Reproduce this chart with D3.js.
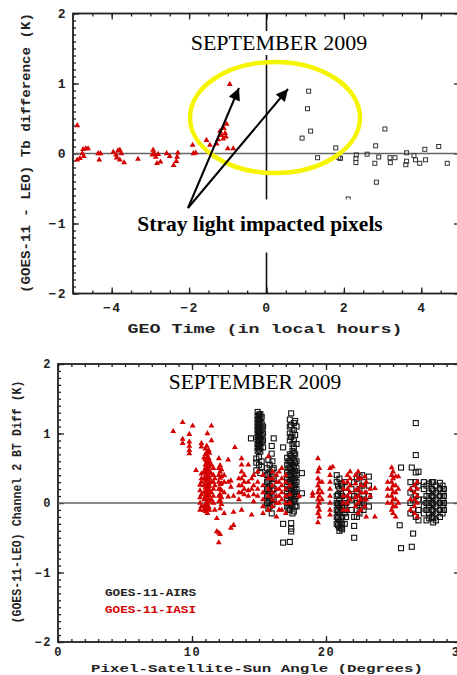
<!DOCTYPE html>
<html>
  <head>
    <meta charset="utf-8">
    <title>GOES-11 stray light</title>
    <script src="https://d3js.org/d3.v7.min.js"></script>
    <style>
      body { margin: 0; background: #fff; }
      .mono { font-family: "Liberation Mono", "DejaVu Sans Mono", monospace; font-weight: bold; }
      .serif { font-family: "Liberation Serif", "Times New Roman", serif; }
    </style>
  </head>
  <body>
    <script>
      // ---- top panel: Tb difference vs GEO local time ----
      var iasiTime = [
        [-4.89,0.40],[-4.89,-0.09],[-4.82,-0.07],[-4.76,0.0],[-4.74,0.06],[-4.67,0.07],[-4.61,0.07],[-4.72,-0.04],
        [-4.35,0.0],[-4.29,0.0],[-4.32,-0.09],
        [-3.96,0.02],[-3.89,-0.02],[-3.87,-0.06],[-3.79,0.05],[-3.75,0.0],[-3.79,-0.09],[-3.68,-0.13],[-3.84,0.04],
        [-3.32,-0.08],
        [-2.93,0.05],[-2.95,-0.02],[-2.86,-0.05],[-2.80,-0.01],[-2.83,-0.14],[-2.74,-0.12],[-2.90,0.0],
        [-2.58,0.0],[-2.50,-0.04],[-2.40,-0.17],[-2.33,-0.11],[-2.31,-0.05],[-2.29,0.01],
        [-1.91,0.12],[-1.89,0.0],[-1.83,0.01],
        [-1.55,0.19],[-1.46,0.12],[-1.29,0.14],[-1.25,0.20],[-1.16,0.26],[-1.12,0.21],[-1.07,0.29],
        [-1.03,0.42],[-1.05,0.24],[-1.00,0.07],[-0.86,0.07],[-0.95,0.99],[-1.20,0.32],[-1.10,0.36]
      ];
      var airsTime = [
        [1.09,0.89],[1.06,0.64],[1.14,0.32],[0.92,0.22],[1.32,-0.06],[1.79,0.08],[1.87,-0.06],[1.91,-0.07],
        [2.11,-0.65],[2.32,-0.02],[2.31,-0.07],[2.31,-0.13],[2.60,-0.01],[2.82,0.11],[3.06,0.35],[2.90,-0.05],
        [2.80,-0.14],[2.84,-0.41],[3.19,-0.06],[3.32,-0.06],[3.20,-0.13],[3.62,0.01],[3.62,-0.11],[3.60,-0.16],
        [3.81,-0.03],[3.85,-0.09],[3.96,-0.14],[4.09,0.06],[4.11,-0.09],[4.45,0.10],[4.67,-0.14]
      ];

      // ---- bottom panel: BT diff vs pixel-satellite-sun angle, as [angle, [diffs...]] columns ----
      var iasiAngle = [
        [8.6,[1.03]],[9.3,[1.16,0.92,0.86]],[9.8,[0.99,0.88,0.82,0.76,0.71]],[10.05,[1.11]],[10.3,[0.47]],
        [10.6,[0.26,0.18,0.08,0.0,-0.1]],[10.7,[0.86,0.81,0.42,0.35,0.3,0.12,-0.05]],
        [10.9,[0.65,0.45,0.35,0.25,0.15,0.05,-0.05,-0.1]],
        [11.0,[0.78,0.7,0.62,0.55,0.5,0.44,0.38,0.33,0.28,0.22,0.16,0.1,0.05,-0.02,-0.08,-0.12]],
        [11.1,[0.82,0.7,0.6,0.52,0.42,0.32,0.24,0.16,0.08,-0.02,-0.1]],
        [11.15,[1.0,0.74,0.66,0.58,0.5,0.46,0.4,0.34,0.26,0.2,0.14,0.06,0.0,-0.05,-0.15]],
        [11.25,[0.76,0.64,0.56,0.48,0.38,0.28,0.2,0.12,0.04,-0.06]],
        [11.3,[0.72,0.6,0.52,0.44,0.36,0.3,0.24,0.18,0.1,0.02,-0.1]],
        [11.45,[1.11,0.9,0.55,0.42,0.3,0.15,0.05]],[11.6,[0.5,0.4,0.3,0.2,0.1,0.0]],
        [11.7,[0.35,0.25,-0.1]],[11.85,[-0.22,-0.41]],
        [12.0,[-0.43,-0.57,0.64,0.5,0.4,0.3,0.2,0.1,0.02]],[12.1,[0.54,0.45,0.36,0.27,0.2,0.12,0.04,-0.08,-0.45]],
        [12.2,[0.48,0.38,0.28,0.18,0.08,-0.02]],
        [12.4,[0.4,0.3,0.15,-0.15]],[12.7,[0.62,0.3,0.09]],[12.9,[0.32,0.23,-0.36]],[13.1,[0.1,-0.13,-0.32]],
        [13.2,[0.8]],[13.5,[0.35,0.25,0.15,0.05]],[13.7,[0.64,0.55,0.45,0.35,0.25,0.15,-0.1]],[13.9,[0.4,0.3,0.2,0.12]],
        [14.2,[0.55,0.3,0.18,0.1]],[14.45,[0.35,0.2,-0.17]],[14.6,[0.4,0.25,0.12,0.02]],[14.9,[0.45,0.3,0.2,0.1]],
        [15.3,[0.4,0.25,0.15,0.05,-0.05,-0.15]],[15.7,[0.67,0.35,0.2,0.1,-0.1]],
        [16.0,[0.45,0.35,0.25,0.15,0.05,-0.05]],[16.3,[0.4,0.3,0.2,0.1,0.0,-0.2]],
        [16.5,[0.45,0.3,0.2,0.1,0.0,-0.1]],
        [16.7,[0.5,0.35,0.25,0.15,0.05,-0.1]],[17.0,[0.4,0.3,0.2,0.1,0.0,-0.15]],[17.3,[0.25,0.12,0.0]],
        [18.0,[0.1]],[19.0,[0.14,0.1]],[19.4,[0.64,0.45,0.35,0.25,0.15,0.05,-0.05,-0.15,-0.28]],
        [19.5,[0.5,0.3,0.2,0.1,0.0,-0.1,-0.2]],
        [19.7,[0.3,0.15,0.05]],[20.3,[0.5,0.4,0.3,0.2,0.1,0.0,-0.1,-0.17]],[20.5,[0.52]],
        [21.3,[0.3,0.2,0.1,0.0,-0.1]],[21.6,[0.4,0.3,0.2,0.1,0.0,-0.1]],[21.8,[0.45,0.35,0.25,0.15,0.05]],
        [22.2,[0.4,0.28,0.18,0.08,-0.05]],[22.4,[0.45,0.35,0.2,0.1,0.0,-0.15]],
        [22.6,[0.35,0.25,0.15,0.05,-0.1]],[22.9,[0.38,0.25,0.15,0.05,-0.05]],[23.0,[0.3,0.15,0.05,-0.2]],
        [23.3,[0.2,0.1]],[23.65,[0.21,-0.2]],
        [24.6,[0.3,0.2,0.1,0.0]],[24.9,[0.51,0.4,0.3,0.2,0.1,0.0,-0.1]],[25.0,[0.45,0.35,0.25,0.15,0.05,-0.05,-0.15]],
        [25.2,[0.38,0.25,0.15,0.05,-0.05,-0.2]],
        [25.4,[0.38,0.2,0.0]],[26.3,[0.2,0.05,-0.1]],[26.6,[0.25,0.15,0.05,-0.05,-0.15]],[26.8,[0.3,0.2,0.1,0.0,-0.2]]
      ];
      var airsAngle = [
        [14.4,[0.93]],[14.8,[0.64,0.58,0.47]],
        [14.9,[1.31,1.25,1.2,1.15,1.1,1.05,1.0,0.95,0.9,0.85,0.8,0.75]],
        [15.0,[1.27,1.19,1.13,1.07,1.01,0.96,0.89,0.83,0.77,0.66,0.55]],
        [15.1,[1.28,1.22,1.16,1.1,1.04,0.98,0.92,0.86,0.8,0.74,0.43]],
        [15.2,[1.24,1.14,1.06,0.97,0.88,0.6,0.52]],[15.3,[1.1,1.0,0.9,0.8]],
        [15.6,[0.5,0.4,0.3,0.2,0.1,0.0]],[15.7,[0.62,0.42,0.32,0.22,0.12,0.02,-0.08]],
        [15.8,[0.55,0.45,0.35,0.25,0.15,0.05,-0.05]],
        [15.95,[0.82,0.71,-0.15]],[16.0,[0.6,0.48,0.38,0.28,0.18,0.08,-0.02]],
        [16.1,[0.93,0.5,0.35,0.2,0.05]],[16.8,[0.8,-0.3,-0.57]],
        [17.1,[0.65,0.55,0.45,0.35,0.25,0.15,0.05,-0.05]],
        [17.2,[0.6,0.5,0.4,0.3,0.2,0.1,0.0,-0.08]],
        [17.3,[1.2,1.1,1.0,0.9,0.7,0.6,0.5,0.4,0.3,0.2,0.1,0.0,-0.1,-0.56]],
        [17.4,[1.29,1.12,0.95,0.68,0.58,0.48,0.38,0.28,0.18,0.08,-0.02,-0.29,-0.37,-0.41]],
        [17.5,[1.0,0.85,0.75,0.65,0.55,0.45,0.35,0.25,0.15,0.05,-0.05,-0.15]],
        [17.6,[1.15,1.05,0.9,0.8,0.72,0.62,0.52,0.42,0.32,0.22,0.12,0.02,-0.12]],
        [17.7,[1.18,0.98,0.7,0.58,0.46,0.36,0.26,0.16,0.06,-0.04]],
        [17.8,[1.1,0.85,0.6,0.5,0.4,0.3,0.2,0.1,-0.05]],[18.2,[0.43,0.14]],
        [20.8,[0.4,0.3,0.1,0.0,-0.1,-0.2,-0.3]],[20.9,[0.25,0.12,-0.02,-0.12,-0.22,-0.32]],
        [21.0,[0.35,0.2,0.05,-0.05,-0.15,-0.25,-0.35,-0.4]],[21.1,[0.28,0.15,0.0,-0.1,-0.27,-0.36]],
        [21.2,[0.25,0.1,-0.05,-0.2,-0.3,-0.38]],[21.4,[0.3,0.05,-0.05,-0.15,-0.3]],
        [21.5,[0.15,0.0,-0.1,-0.2]],[21.9,[0.2,0.05,-0.1]],
        [22.1,[0.3,0.1,-0.2,-0.33,-0.5]],[22.3,[0.35,0.15,0.0,-0.1,-0.2]],[22.5,[0.38,0.2,0.05,-0.05,-0.15]],
        [22.7,[0.4,0.25,0.05,-0.05]],[22.8,[0.3,0.1,0.0,-0.1]],
        [23.2,[0.38,0.25,0.1,-0.05]],[25.5,[-0.32]],[25.6,[0.51,-0.65]],[26.3,[0.3,0.15,0.0,-0.15]],
        [26.4,[0.51,-0.63]],[26.5,[0.2,0.05,-0.1,-0.44]],[26.7,[1.15,0.69,0.44,0.3,0.1,-0.2]],
        [26.9,[0.45,0.25,0.05,-0.1,-0.25]],
        [27.3,[0.3,0.2,0.05,-0.05,-0.15]],[27.5,[0.25,0.1,0.0,-0.1,-0.25]],
        [27.7,[0.28,0.15,0.05,-0.05,-0.15,-0.22]],[27.9,[0.3,0.2,0.1,0.0,-0.1,-0.2]],
        [28.0,[0.3,0.18,0.08,-0.02,-0.12,-0.22,-0.28]],
        [28.2,[0.25,0.15,0.05,-0.05,-0.15,-0.25]],[28.5,[0.29,0.2,0.1,0.0,-0.1,-0.2]],
        [28.7,[0.25,0.15,0.05,-0.05,-0.15]],[28.8,[0.2,0.1,0.0,-0.1]]
      ];

      var legendNames = ["GOES-11-AIRS", "GOES-11-IASI"];
      var red = "#d40000";

      function flatten(cols) {
        var out = [];
        cols.forEach(function(c) { c[1].forEach(function(v) { out.push([c[0], v]); }); });
        return out;
      }

      var svg = d3.select("body").append("svg")
        .attr("width", 457)
        .attr("height", 675)
        .style("background", "#fff");

      function frame(g, x, y, xMajor, xMinor, yMinor, xPad, labelSize) {
        var r = x.range(), b = y.range();
        var yMajor = [-2, -1, 0, 1, 2];
        var fmt = d3.format("d");

        g.append("g").attr("class", "mono")
          .attr("transform", "translate(0," + b[0] + ")")
          .call(d3.axisBottom(x).tickValues(xMajor).tickFormat(fmt).tickSize(-6).tickPadding(xPad))
          .call(function(a) { a.select(".domain").remove(); });
        g.append("g").attr("transform", "translate(0," + b[0] + ")")
          .call(d3.axisBottom(x).tickValues(xMinor).tickSize(-3).tickFormat(""))
          .call(function(a) { a.select(".domain").remove(); });
        g.append("g").attr("transform", "translate(0," + b[1] + ")")
          .call(d3.axisTop(x).tickValues(xMajor).tickSize(-6).tickFormat(""))
          .call(function(a) { a.select(".domain").remove(); });
        g.append("g").attr("transform", "translate(0," + b[1] + ")")
          .call(d3.axisTop(x).tickValues(xMinor).tickSize(-3).tickFormat(""))
          .call(function(a) { a.select(".domain").remove(); });

        g.append("g").attr("class", "mono")
          .attr("transform", "translate(" + r[0] + ",0)")
          .call(d3.axisLeft(y).tickValues(yMajor).tickFormat(fmt).tickSize(-6).tickPadding(6))
          .call(function(a) { a.select(".domain").remove(); });
        g.append("g").attr("transform", "translate(" + r[0] + ",0)")
          .call(d3.axisLeft(y).tickValues(yMinor).tickSize(-3).tickFormat(""))
          .call(function(a) { a.select(".domain").remove(); });
        g.append("g").attr("transform", "translate(" + r[1] + ",0)")
          .call(d3.axisRight(y).tickValues(yMajor).tickSize(-6).tickFormat(""))
          .call(function(a) { a.select(".domain").remove(); });
        g.append("g").attr("transform", "translate(" + r[1] + ",0)")
          .call(d3.axisRight(y).tickValues(yMinor).tickSize(-3).tickFormat(""))
          .call(function(a) { a.select(".domain").remove(); });

        g.selectAll(".tick line").attr("stroke", "#222").attr("stroke-width", 1.3);
        g.selectAll(".tick text").attr("fill", "#222")
          .style("font-size", labelSize + "px").style("letter-spacing", "1.5px");

        g.append("rect")
          .attr("x", r[0]).attr("y", b[1])
          .attr("width", r[1] - r[0]).attr("height", b[0] - b[1])
          .attr("fill", "none").attr("stroke", "#222").attr("stroke-width", 1.8);

        g.append("line")
          .attr("x1", r[0]).attr("x2", r[1])
          .attr("y1", y(0)).attr("y2", y(0))
          .attr("stroke", "#666").attr("stroke-width", 1.6);
      }

      var yMinor = d3.range(-20, 21).map(function(i) { return i / 10; });

      // ================= TOP =================
      var xT = d3.scaleLinear().domain([-5, 5]).range([73, 460]);
      var yT = d3.scaleLinear().domain([-2, 2]).range([293.5, 13.5]);
      var topG = svg.append("g");

      frame(topG, xT, yT, [-4, -2, 0, 2, 4],
        d3.range(-10, 11).map(function(i) { return i / 2; }), yMinor, 9, 13);

      topG.append("line")
        .attr("x1", xT(0)).attr("x2", xT(0))
        .attr("y1", yT(2)).attr("y2", yT(-2))
        .attr("stroke", "#111").attr("stroke-width", 1.6);

      topG.selectAll("path.tri")
        .data(iasiTime)
        .enter().append("path")
          .attr("class", "tri")
          .attr("d", d3.symbol(d3.symbolTriangle, 15))
          .attr("transform", function(d) { return "translate(" + xT(d[0]) + "," + yT(d[1]) + ")"; })
          .attr("fill", red);

      topG.selectAll("rect.sq")
        .data(airsTime)
        .enter().append("rect")
          .attr("class", "sq")
          .attr("x", function(d) { return xT(d[0]) - 2; })
          .attr("y", function(d) { return yT(d[1]) - 2; })
          .attr("width", 4).attr("height", 4)
          .attr("fill", "none").attr("stroke", "#333").attr("stroke-width", 1);

      // white boxes behind the pasted-in texts
      topG.append("rect").attr("x", 184).attr("y", 31).attr("width", 190).attr("height", 24).attr("fill", "#fff");
      topG.append("rect").attr("x", 132).attr("y", 199.5).attr("width", 258).attr("height", 53).attr("fill", "#fff");

      topG.append("text").attr("class", "serif")
        .attr("x", 279).attr("y", 50)
        .attr("text-anchor", "middle")
        .style("font-size", "22px")
        .text("SEPTEMBER 2009");

      topG.append("text").attr("class", "serif")
        .attr("x", 260).attr("y", 231)
        .attr("text-anchor", "middle")
        .style("font-size", "21.5px").style("font-weight", "bold")
        .text("Stray light impacted pixels");

      topG.append("ellipse")
        .attr("cx", 275).attr("cy", 117.5)
        .attr("rx", 85).attr("ry", 55.5)
        .attr("fill", "none").attr("stroke", "#f5f500").attr("stroke-width", 4.5);

      svg.append("defs").append("marker")
        .attr("id", "head")
        .attr("viewBox", "0 0 10 10")
        .attr("refX", 10).attr("refY", 5)
        .attr("markerWidth", 6.5).attr("markerHeight", 6)
        .attr("markerUnits", "strokeWidth")
        .attr("orient", "auto")
        .append("path").attr("d", "M0,0L10,5L0,10Z").attr("fill", "#000");

      [[239, 88], [288, 89]].forEach(function(t) {
        topG.append("line")
          .attr("x1", 188).attr("y1", 208)
          .attr("x2", t[0]).attr("y2", t[1])
          .attr("stroke", "#000").attr("stroke-width", 2)
          .attr("marker-end", "url(#head)");
      });

      topG.append("text").attr("class", "mono")
        .attr("x", 265).attr("y", 333)
        .attr("text-anchor", "middle")
        .attr("textLength", 275).attr("lengthAdjust", "spacingAndGlyphs")
        .style("font-size", "13px").attr("fill", "#222")
        .text("GEO Time (in local hours)");

      topG.append("text").attr("class", "mono")
        .attr("transform", "translate(30,153) rotate(-90)")
        .attr("text-anchor", "middle")
        .attr("textLength", 280).attr("lengthAdjust", "spacingAndGlyphs")
        .style("font-size", "13px").attr("fill", "#222")
        .text("(GOES-11 - LEO) Tb difference (K)");

      // ================= BOTTOM =================
      var xB = d3.scaleLinear().domain([0, 30]).range([58, 460]);
      var yB = d3.scaleLinear().domain([-2, 2]).range([642, 364]);
      var botG = svg.append("g");

      frame(botG, xB, yB, [0, 10, 20, 30], d3.range(0, 31), yMinor, 5, 12);

      botG.selectAll("rect.sq")
        .data(flatten(airsAngle))
        .enter().append("rect")
          .attr("class", "sq")
          .attr("x", function(d) { return xB(d[0]) - 2.5; })
          .attr("y", function(d) { return yB(d[1]) - 2.5; })
          .attr("width", 5).attr("height", 5)
          .attr("fill", "none").attr("stroke", "#111").attr("stroke-width", 1.1);

      botG.selectAll("path.tri")
        .data(flatten(iasiAngle))
        .enter().append("path")
          .attr("class", "tri")
          .attr("d", d3.symbol(d3.symbolTriangle, 15))
          .attr("transform", function(d) { return "translate(" + xB(d[0]) + "," + yB(d[1]) + ")"; })
          .attr("fill", red);

      botG.append("text").attr("class", "serif")
        .attr("x", 255).attr("y", 389)
        .attr("text-anchor", "middle")
        .style("font-size", "21.5px")
        .text("SEPTEMBER 2009");

      botG.selectAll("text.leg")
        .data(legendNames)
        .enter().append("text")
          .attr("class", "leg mono")
          .attr("x", 105)
          .attr("y", function(d, i) { return 596 + i * 17; })
          .attr("textLength", 91).attr("lengthAdjust", "spacingAndGlyphs")
          .style("font-size", "10px")
          .attr("fill", function(d, i) { return i ? red : "#222"; })
          .text(function(d) { return d; });

      botG.append("text").attr("class", "mono")
        .attr("x", 257).attr("y", 672)
        .attr("text-anchor", "middle")
        .attr("textLength", 332).attr("lengthAdjust", "spacingAndGlyphs")
        .style("font-size", "11.5px").attr("fill", "#222")
        .text("Pixel-Satellite-Sun Angle (Degrees)");

      botG.append("text").attr("class", "mono")
        .attr("transform", "translate(21,502) rotate(-90)")
        .attr("text-anchor", "middle")
        .attr("textLength", 243).attr("lengthAdjust", "spacingAndGlyphs")
        .style("font-size", "12px").attr("fill", "#222")
        .text("(GOES-11-LEO) Channel 2 BT Diff (K)");
    </script>
  </body>
</html>
